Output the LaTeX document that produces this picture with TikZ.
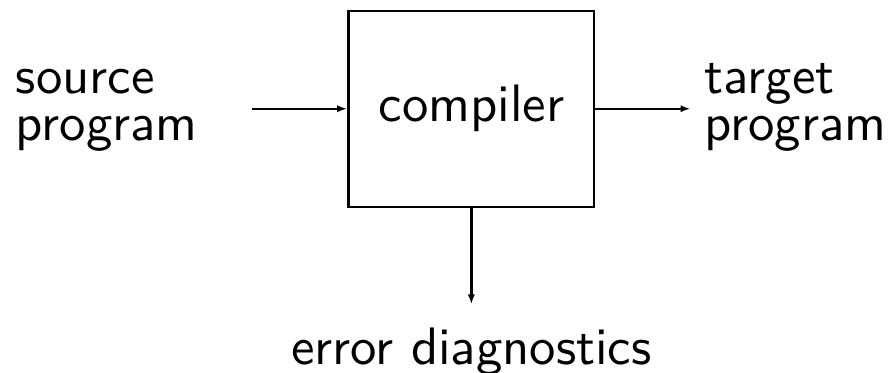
\documentclass[tikz,border=0pt]{standalone}
\usepackage{fontspec}
\usepackage{tikz}
\usetikzlibrary{arrows.meta}
\newfontfamily\slidefont{lmsans10-regular.otf}

\begin{document}
\begin{tikzpicture}[>={Latex[length=5pt,width=3.6pt]},
    every node/.style={font=\slidefont\fontsize{26.4}{23.5}\selectfont}]
\useasboundingbox (0,0) rectangle (15.69,-6.56);

\begin{scope}[line width=1.2pt]
    \node (C)[draw,minimum width=4.33cm,minimum height=3.45cm,inner sep=0pt] at (8.30,-1.915) {compiler};
    \node (S)[anchor=base west,align=left,inner sep=0pt] at (0.26,-2.47) {source\\program};
    \node (T)[anchor=base west,align=left,inner sep=0pt] at (12.39,-2.47) {target\\program};
    \node (E)[anchor=base,inner sep=0pt] at (8.30,-6.41) {error diagnostics};
    \coordinate (in) at (4.43,-1.915);
    \coordinate (out) at (12.16,-1.915);
    \coordinate (err) at (8.30,-5.36);
\end{scope}

\begin{scope}[every path/.style={draw,line width=1.2pt}]
    \path[->] (in) -- (C.west);
    \path[->] (C.east) -- (out);
    \path[->] (C.south) -- (err);
\end{scope}
\end{tikzpicture}
\end{document}
